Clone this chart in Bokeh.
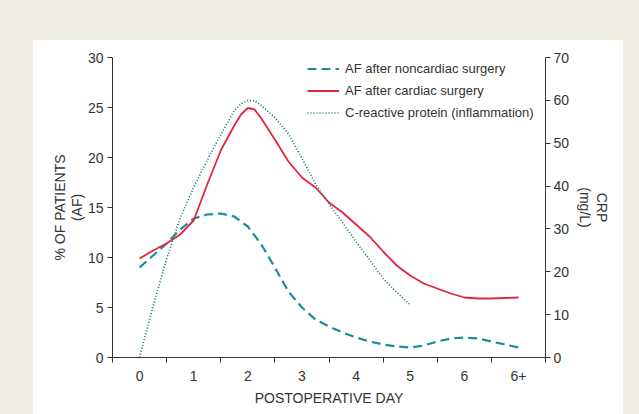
from bokeh.plotting import figure
from bokeh.embed import file_html
from bokeh.resources import INLINE
from bokeh.models import (Range1d, LinearAxis, FixedTicker, Spacer)
from bokeh.layouts import column, row

# ---- data ----
day_labels = ["0", "1", "2", "3", "4", "5", "6", "6+"]

days_noncardiac = [0, 0.25, 0.5, 0.75, 1.0, 1.25, 1.5, 1.75, 2.0, 2.25, 2.5,
                   2.75, 3.0, 3.25, 3.5, 3.75, 4.0, 4.25, 4.5, 4.75, 5.0, 5.25,
                   5.5, 5.75, 6.0, 6.25, 6.5, 6.75, 7.0]

af_noncardiac = [9.0, 10.2, 11.4, 12.8, 13.9, 14.3, 14.4, 14.1, 13.1, 11.3,
                 9.0, 6.6, 5.0, 3.8, 3.1, 2.5, 2.0, 1.6, 1.3, 1.1, 1.0, 1.2,
                 1.6, 1.9, 2.0, 1.9, 1.6, 1.3, 1.0]

days_cardiac = [0, 0.25, 0.5, 0.75, 1.0, 1.25, 1.5, 1.75, 1.875, 2.0, 2.125,
                2.25, 2.5, 2.75, 3.0, 3.25, 3.5, 3.75, 4.0, 4.25, 4.5, 4.75,
                5.0, 5.25, 5.5, 5.75, 6.0, 6.25, 6.5, 6.75, 7.0]

af_cardiac = [9.9, 10.7, 11.4, 12.3, 13.7, 17.3, 20.7, 23.2, 24.3, 24.95,
              24.8, 23.9, 21.8, 19.6, 18.0, 17.0, 15.5, 14.5, 13.3, 12.1, 10.6,
              9.2, 8.2, 7.4, 6.9, 6.4, 6.0, 5.9, 5.9, 5.95, 6.0]

days_crp = [0, 0.25, 0.5, 0.75, 1.0, 1.25, 1.5, 1.75, 1.875, 2.0, 2.125, 2.25,
            2.5, 2.75, 3.0, 3.25, 3.5, 3.75, 4.0, 4.25, 4.5, 4.75, 5.0]

crp = [0, 12.0, 23.0, 32.5, 39.7, 46.0, 52.0, 57.6, 59.2, 60.0, 59.9, 58.8,
       56.0, 52.2, 46.5, 40.5, 35.8, 31.5, 27.0, 22.8, 18.4, 15.2, 12.3]

left_ticks = [0, 5, 10, 15, 20, 25, 30]
right_ticks = [0, 10, 20, 30, 40, 50, 60, 70]

# ---- style ----
FONT = "Liberation Sans"
TXT = "#333333"
AXC = "#333333"
BEIGE = "#efece1"
TEAL = "#1b8c98"
RED = "#e3263f"
GREEN = "#1a7a55"

p = figure(width=590, height=374, output_backend="svg", toolbar_location=None,
           x_range=Range1d(-0.5, 7.5), y_range=Range1d(0, 30),
           min_border_left=79, min_border_right=78, min_border_top=17,
           min_border_bottom=57, x_axis_type=None, y_axis_type=None)
p.extra_y_ranges = {"crp": Range1d(0, 70)}
p.grid.visible = False
p.outline_line_color = None
p.background_fill_color = "white"
p.border_fill_color = "white"


def style_axis(ax):
    ax.axis_line_color = AXC
    ax.major_tick_line_color = AXC
    ax.minor_tick_line_color = AXC
    ax.major_label_text_font = FONT
    ax.major_label_text_font_size = "14px"
    ax.major_label_text_color = TXT
    ax.axis_label_text_font = FONT
    ax.axis_label_text_font_size = "14px"
    ax.axis_label_text_font_style = "normal"
    ax.axis_label_text_color = TXT
    ax.axis_label_text_line_height = 1.05


# bottom axis: labels at day centres, tick marks between days
xax = LinearAxis(ticker=FixedTicker(ticks=list(range(len(day_labels))),
                                    minor_ticks=[i - 0.5 for i in range(len(day_labels) + 1)]),
                 axis_label="POSTOPERATIVE DAY")
xax.major_label_overrides = {i: lab for i, lab in enumerate(day_labels)}
style_axis(xax)
xax.major_tick_in = 0
xax.major_tick_out = 0
xax.minor_tick_in = 0
xax.minor_tick_out = 5
xax.major_label_standoff = 8
xax.axis_label_standoff = 6
p.add_layout(xax, "below")

yl = LinearAxis(ticker=FixedTicker(ticks=left_ticks, minor_ticks=[]),
                axis_label="% OF PATIENTS\n(AF)")
style_axis(yl)
yl.major_tick_in = 0
yl.major_tick_out = 5
yl.major_label_standoff = 4
yl.axis_label_standoff = 0
p.add_layout(yl, "left")

yr = LinearAxis(y_range_name="crp",
                ticker=FixedTicker(ticks=right_ticks, minor_ticks=[]),
                axis_label="CRP\n(mg/L)")
style_axis(yr)
yr.major_tick_in = 0
yr.major_tick_out = 5
yr.major_label_standoff = 3
yr.axis_label_standoff = 5
p.add_layout(yr, "right")

p.line(days_noncardiac, af_noncardiac, line_color=TEAL, line_width=2.2,
       line_dash="9 5", legend_label="AF after noncardiac surgery")
p.line(days_cardiac, af_cardiac, line_color=RED, line_width=1.8,
       legend_label="AF after cardiac surgery")
p.line(days_crp, crp, line_color=GREEN, line_width=1.7, line_dash="1 2",
       y_range_name="crp", legend_label="C-reactive protein (inflammation)")

lg = p.legend[0]
lg.location = (195, 235)
lg.margin = 0
lg.padding = 0
lg.spacing = 3
lg.glyph_width = 32
lg.glyph_height = 19
lg.label_height = 19
lg.label_standoff = 6
lg.label_text_font = FONT
lg.label_text_font_size = "13px"
lg.label_text_color = TXT
lg.border_line_color = None
lg.background_fill_alpha = 0

top = Spacer(width=639, height=40, styles={"background-color": BEIGE})
left = Spacer(width=33, height=374, styles={"background-color": BEIGE})
right = Spacer(width=16, height=374, styles={"background-color": BEIGE})
layout = column(top, row(left, p, right))

open("out.html", "w").write(file_html(layout, INLINE))
